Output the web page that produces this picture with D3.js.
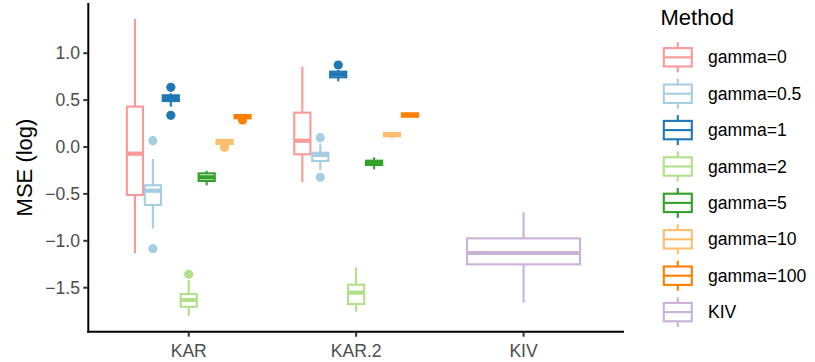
<!DOCTYPE html>
<html><head><meta charset="utf-8">
<script src="https://cdn.jsdelivr.net/npm/d3@7"></script>
<style>body{margin:0;background:#fff}svg{display:block}text{font-family:"Liberation Sans",Arial,sans-serif}</style>
</head><body><svg id="c" width="815" height="362"></svg>
<script>
const groups = ["KAR", "KAR.2", "KIV"];
const methods = ["gamma=0", "gamma=0.5", "gamma=1", "gamma=2", "gamma=5", "gamma=10", "gamma=100", "KIV"];
const colors = ["#FB9A99", "#A6CEE3", "#1F78B4", "#B2DF8A", "#33A02C", "#FDBF6F", "#FF7F00", "#CAB2D6"];
const yTicks = [-1.5, -1.0, -0.5, 0.0, 0.5, 1.0];
// [lower whisker, q1, median, q3, upper whisker] per method
const KAR_stats = [
  [-1.133, -0.512, -0.071, 0.43, 1.365],
  [-0.867, -0.618, -0.466, -0.408, -0.128],
  [0.43, 0.49, 0.522, 0.551, 0.572],
  [-1.80, -1.703, -1.631, -1.567, -1.418],
  [-0.408, -0.362, -0.323, -0.281, -0.253],
  [0.032, 0.032, 0.053, 0.075, 0.075],
  [0.306, 0.306, 0.323, 0.341, 0.341]
];
const KAR_outliers = [[], [0.067, -1.084], [0.636, 0.338], [-1.357], [], [-0.003], [0.288]];
const KAR2_stats = [
  [-0.376, -0.078, 0.067, 0.366, 0.856],
  [-0.245, -0.149, -0.085, -0.061, 0.039],
  [0.70, 0.743, 0.775, 0.803, 0.821],
  [-1.756, -1.674, -1.553, -1.468, -1.283],
  [-0.238, -0.192, -0.167, -0.146, -0.110],
  [0.093, 0.114, 0.131, 0.149, 0.16],
  [0.323, 0.323, 0.341, 0.359, 0.359]
];
const KAR2_outliers = [[], [0.099, -0.323], [0.874], [], [], [], []];
const KIV_stats = [[-1.66, -1.251, -1.13, -0.974, -0.696]];
const KIV_outliers = [[]];

const svg = d3.select("#c");
const x = d3.scalePoint().domain(groups).range([88.3, 624]).padding(0.6);
const y = d3.scaleLinear().domain([-1.969, 1.535]).range([331.7, 3]);
const step = x.step();

const data = [];
[[KAR_stats, KAR_outliers, methods.slice(0, 7)], [KAR2_stats, KAR2_outliers, methods.slice(0, 7)], [KIV_stats, KIV_outliers, ["KIV"]]]
  .forEach(([st, out, ms], gi) => {
    const n = ms.length, total = 0.75 * step, slot = total / n;
    ms.forEach((m, i) => {
      const cx = x(groups[gi]) - total / 2 + slot * (i + 0.5);
      data.push({cx, w: slot * 0.9, s: st[i], o: out[i], col: colors[methods.indexOf(m)]});
    });
  });

const lw = 2.1;
const g = svg.append("g");
data.forEach(d => {
  const b = g.append("g").attr("stroke", d.col).attr("fill", "none");
  b.append("line").attr("x1", d.cx).attr("x2", d.cx).attr("y1", y(d.s[4])).attr("y2", y(d.s[3])).attr("stroke-width", lw);
  b.append("line").attr("x1", d.cx).attr("x2", d.cx).attr("y1", y(d.s[1])).attr("y2", y(d.s[0])).attr("stroke-width", lw);
  b.append("rect").attr("x", d.cx - d.w / 2).attr("width", d.w).attr("y", y(d.s[3])).attr("height", Math.max(0, y(d.s[1]) - y(d.s[3])))
    .attr("fill", "#fff").attr("stroke-width", lw);
  b.append("line").attr("x1", d.cx - d.w / 2).attr("x2", d.cx + d.w / 2).attr("y1", y(d.s[2])).attr("y2", y(d.s[2])).attr("stroke-width", lw * 2);
  d.o.forEach(v => g.append("circle").attr("cx", d.cx).attr("cy", y(v)).attr("r", 4.6).attr("fill", d.col));
});

// axes
const ax = svg.append("g").attr("stroke", "#000").attr("stroke-width", 2);
ax.append("line").attr("x1", 88.3).attr("x2", 88.3).attr("y1", 3).attr("y2", 332.7);
ax.append("line").attr("x1", 87.3).attr("x2", 624).attr("y1", 331.7).attr("y2", 331.7);
yTicks.forEach(t => {
  ax.append("line").attr("x1", 83.3).attr("x2", 88.3).attr("y1", y(t)).attr("y2", y(t)).attr("stroke", "#333");
  svg.append("text").attr("x", 80).attr("y", y(t)).attr("dy", "0.35em").attr("text-anchor", "end")
    .attr("font-size", 17.6).attr("fill", "#4D4D4D").text(d3.format(".1f")(t).replace("-", "\u2212"));
});
groups.forEach(c => {
  ax.append("line").attr("x1", x(c)).attr("x2", x(c)).attr("y1", 331.7).attr("y2", 336.7).attr("stroke", "#333");
  svg.append("text").attr("x", x(c)).attr("y", 356.5).attr("text-anchor", "middle")
    .attr("font-size", 17.6).attr("fill", "#4D4D4D").text(c);
});
svg.append("text").attr("transform", `translate(31.5,167.5) rotate(-90)`).attr("text-anchor", "middle")
  .attr("font-size", 22).attr("fill", "#000").text("MSE (log)");

// legend
svg.append("text").attr("x", 660.5).attr("y", 25).attr("font-size", 22).attr("fill", "#000").text("Method");
methods.forEach((m, i) => {
  const cy = 57.3 + 36.4 * i, col = colors[i];
  const k = svg.append("g").attr("stroke", col).attr("stroke-width", lw).attr("fill", "#fff");
  k.append("line").attr("x1", 677.8).attr("x2", 677.8).attr("y1", cy - 15).attr("y2", cy + 15);
  k.append("rect").attr("x", 663.8).attr("width", 28).attr("y", cy - 9.2).attr("height", 18.4);
  k.append("line").attr("x1", 663.8).attr("x2", 691.8).attr("y1", cy).attr("y2", cy);
  svg.append("text").attr("x", 708).attr("y", cy).attr("dy", "0.35em").attr("font-size", 17.6).attr("fill", "#000").text(m);
});
</script></body></html>
